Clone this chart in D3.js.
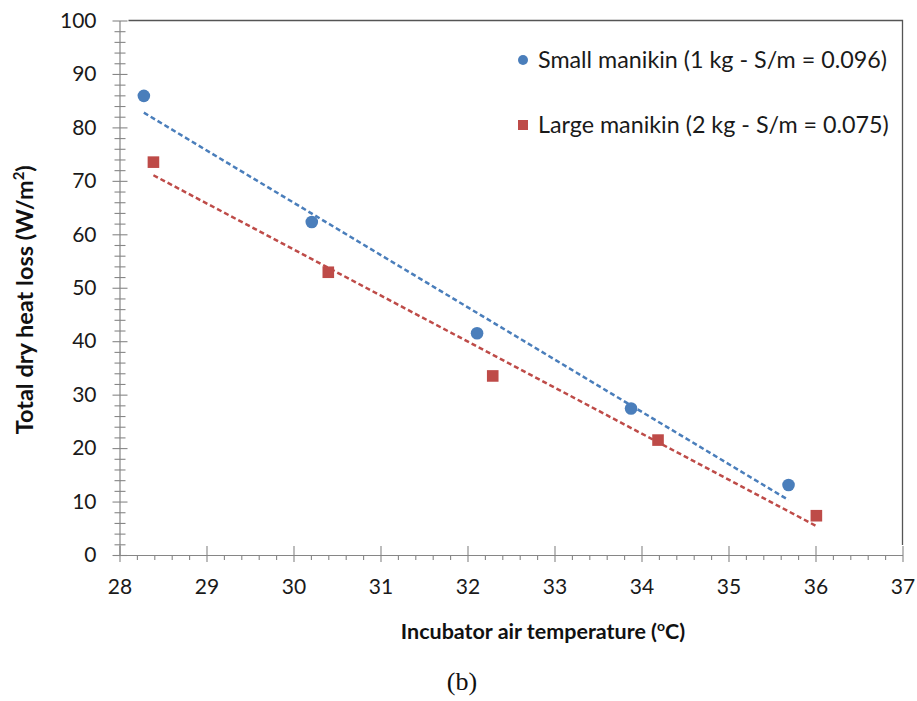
<!DOCTYPE html>
<html>
<head>
<meta charset="utf-8">
<script src="https://cdn.jsdelivr.net/npm/d3@7"></script>
<style>
  body { margin: 0; background: #fff; }
  svg text { font-family: Lato, "Open Sans", sans-serif; }
</style>
</head>
<body>
<div id="chart-area"></div>
<script>
// data
const smallTemp = [28.28, 30.21, 32.11, 33.88, 35.69];
const smallLoss = [85.9, 62.3, 41.5, 27.4, 13.1];
const largeTemp = [28.39, 30.40, 32.29, 34.19, 36.01];
const largeLoss = [73.5, 52.9, 33.5, 21.5, 7.35];
const seriesNames = ["Small manikin (1 kg - S/m = 0.096)", "Large manikin (2 kg - S/m = 0.075)"];
const yTicks = [0, 10, 20, 30, 40, 50, 60, 70, 80, 90, 100];
const xTicks = [28, 29, 30, 31, 32, 33, 34, 35, 36, 37];

const W = 917, H = 701;
const margin = { top: 20.5, right: 14.5, bottom: 146, left: 119.5 };
const width = W - margin.left - margin.right;
const height = H - margin.top - margin.bottom;

const blue = "#4a7ebb", red = "#be4b48";
const axisColor = "#868686";

const svg = d3.select("#chart-area")
  .append("svg")
  .attr("width", W)
  .attr("height", H);

const g = svg.append("g")
  .attr("transform", `translate(${margin.left}, ${margin.top})`);

const x = d3.scaleLinear().domain([28, 37]).range([0, width]);
const y = d3.scaleLinear().domain([0, 100]).range([height, 0]);

// plot border (top + right)
g.append("path")
  .attr("d", `M${x(28) + 9},${y(100)}H${x(37)}V${y(0) - 10}`)
  .attr("fill", "none")
  .attr("stroke", "#555")
  .attr("stroke-width", 1.3);

// y axis, minor every 2
const yAll = d3.range(0, 101, 2);
const yAxis = d3.axisLeft(y)
  .tickValues(yAll)
  .tickSize(0)
  .tickPadding(23)
  .tickFormat(d => yTicks.includes(d) ? d : "");

const yAxisGroup = g.append("g").call(yAxis);
yAxisGroup.select(".domain").attr("stroke", axisColor).attr("stroke-width", 1.2);
yAxisGroup.selectAll(".tick line")
  .attr("stroke", axisColor)
  .attr("stroke-width", 1.1)
  .attr("x1", d => yTicks.includes(d) ? -7 : -5)
  .attr("x2", d => yTicks.includes(d) ? 8 : 6);
yAxisGroup.selectAll(".tick text")
  .attr("fill", "#1a1a1a")
  .attr("font-size", "21px");

// x axis, minor every 0.2
const xAll = d3.range(140, 186).map(d => d / 5);
const xAxis = d3.axisBottom(x)
  .tickValues(xAll)
  .tickSize(0)
  .tickPadding(24)
  .tickFormat(d => xTicks.includes(d) ? d : "");

const xAxisGroup = g.append("g")
  .attr("transform", `translate(0, ${height})`)
  .call(xAxis);
xAxisGroup.select(".domain").attr("stroke", axisColor).attr("stroke-width", 1.2);
xAxisGroup.selectAll(".tick line")
  .attr("stroke", axisColor)
  .attr("stroke-width", 1.1)
  .attr("y1", d => xTicks.includes(d) ? -9 : 0)
  .attr("y2", d => xTicks.includes(d) ? 7 : 5);
xAxisGroup.selectAll(".tick text")
  .attr("fill", "#1a1a1a")
  .attr("font-size", "21px");

// linear trendlines (least squares, like the spreadsheet trendline)
function fit(xs, ys) {
  const mx = d3.mean(xs), my = d3.mean(ys);
  const sxy = d3.sum(xs, (v, i) => (v - mx) * (ys[i] - my));
  const sxx = d3.sum(xs, v => (v - mx) * (v - mx));
  const b = sxy / sxx;
  return t => my + b * (t - mx);
}

const series = [
  { temp: smallTemp, loss: smallLoss, color: blue, shape: "circle" },
  { temp: largeTemp, loss: largeLoss, color: red, shape: "square" }
];

series.forEach(s => {
  const f = fit(s.temp, s.loss);
  const x0 = d3.min(s.temp), x1 = d3.max(s.temp);
  g.append("line")
    .attr("x1", x(x0)).attr("y1", y(f(x0)))
    .attr("x2", x(x1)).attr("y2", y(f(x1)))
    .attr("stroke", s.color)
    .attr("stroke-width", 2.5)
    .attr("stroke-dasharray", "5,3");
});

series.forEach(s => {
  const pts = s.temp.map((t, i) => ({ t: t, v: s.loss[i] }));
  if (s.shape === "circle") {
    g.selectAll(null).data(pts).enter()
      .append("circle")
      .attr("cx", d => x(d.t))
      .attr("cy", d => y(d.v))
      .attr("r", 6.3)
      .attr("fill", s.color);
  } else {
    g.selectAll(null).data(pts).enter()
      .append("rect")
      .attr("x", d => x(d.t) - 5.8)
      .attr("y", d => y(d.v) - 5.8)
      .attr("width", 11.6)
      .attr("height", 11.6)
      .attr("fill", s.color);
  }
});

// legend
const legend = svg.append("g").attr("transform", "translate(523, 60)");
seriesNames.forEach((name, i) => {
  const row = legend.append("g").attr("transform", `translate(0, ${i * 65})`);
  if (i === 0) {
    row.append("circle").attr("r", 5).attr("fill", blue);
  } else {
    row.append("rect").attr("x", -5).attr("y", -5).attr("width", 10).attr("height", 10).attr("fill", red);
  }
  row.append("text")
    .attr("x", 15)
    .attr("y", 8)
    .attr("font-size", "23.3px")
    .attr("fill", "#1a1a1a")
    .text(name);
});

// axis titles
const yTitle = svg.append("text")
  .attr("transform", `translate(33, ${margin.top + height / 2 + 12}) rotate(-90)`)
  .attr("text-anchor", "middle")
  .attr("font-size", "23.5px")
  .attr("font-weight", "bold")
  .attr("fill", "#111");
yTitle.append("tspan").text("Total dry heat loss (W/m");
yTitle.append("tspan").attr("font-size", "15px").attr("dy", -9).text("2");
yTitle.append("tspan").attr("dy", 9).text(")");

const xTitle = svg.append("text")
  .attr("x", margin.left + width / 2 + 32)
  .attr("y", 639)
  .attr("text-anchor", "middle")
  .attr("font-size", "21.5px")
  .attr("font-weight", "bold")
  .attr("fill", "#111");
xTitle.append("tspan").text("Incubator air temperature (");
xTitle.append("tspan").attr("font-size", "14px").attr("dy", -8).text("o");
xTitle.append("tspan").attr("dy", 8).text("C)");

svg.append("text")
  .attr("x", 462)
  .attr("y", 690)
  .attr("text-anchor", "middle")
  .style("font-family", "'Liberation Serif', 'DejaVu Serif', serif")
  .attr("font-size", "26px")
  .attr("fill", "#111")
  .text("(b)");
</script>
</body>
</html>
